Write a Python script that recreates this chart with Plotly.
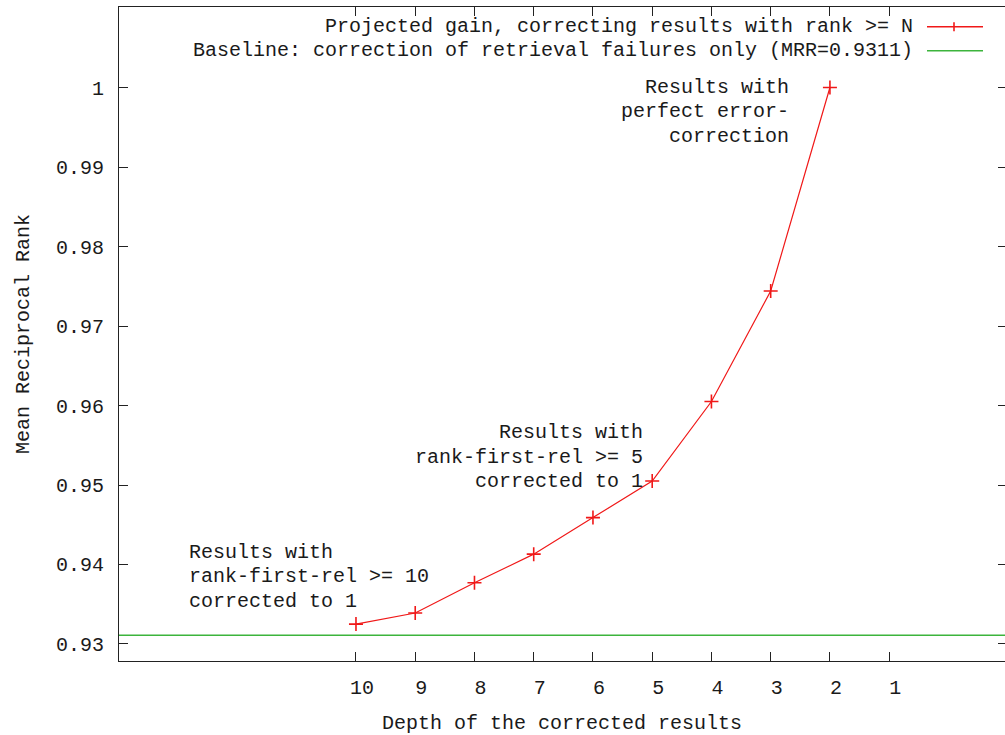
import plotly.graph_objects as go

# ---- data -------------------------------------------------------------
depth = [10, 9, 8, 7, 6, 5, 4, 3, 2]
mrr_projected = [0.9325, 0.9339, 0.9377, 0.9413, 0.9459, 0.9505, 0.9605, 0.9744, 1.0]
baseline_mrr = 0.9311

x_tick_values = [10, 9, 8, 7, 6, 5, 4, 3, 2, 1]
y_tick_values = [0.93, 0.94, 0.95, 0.96, 0.97, 0.98, 0.99, 1.0]
y_tick_text = ["0.93", "0.94", "0.95", "0.96", "0.97", "0.98", "0.99", "1"]

series_names = [
    "Projected gain, correcting results with rank >= N",
    "Baseline: correction of retrieval failures only (MRR=0.9311)",
]

label_perfect = ["Results with", "perfect error-", "correction"]
label_rank5 = ["Results with", "rank-first-rel >= 5", "corrected to 1"]
label_rank10 = ["Results with", "rank-first-rel >= 10", "corrected to 1"]

# ---- styling ------------------------------------------------------------
FONT = "Liberation Mono"
FSIZE = 20
TXT = "#1a1a1a"
RED = "#f01818"
GREEN = "#3cb43c"

W, H = 1005, 735
ML, MR, MT, MB = 119, 0, 7, 74
PW, PH = W - ML - MR, H - MT - MB


def px_x(px):
    return (px - ML) / PW


def px_y(py):
    return (H - MB - py) / PH


fig = go.Figure()

fig.add_trace(go.Scatter(
    x=depth, y=mrr_projected, mode="lines+markers",
    name=series_names[0],
    line=dict(color=RED, width=1.2),
    marker=dict(symbol="cross-thin", size=10, line=dict(color=RED, width=1.6)),
    showlegend=False,
))

fig.add_hline(y=baseline_mrr, line=dict(color=GREEN, width=1.6), layer="above")

# right-hand mirror ticks (no border line on that side)
fig.add_trace(go.Scatter(x=[None], y=[None], yaxis="y2", showlegend=False))

# ---- key, drawn text-first like the original terminal ---------------------
key_rows = [26.7, 50.7]
for name, row, col in zip(series_names, key_rows, [RED, GREEN]):
    fig.add_annotation(
        xref="paper", yref="paper", x=px_x(915), y=px_y(row),
        xanchor="right", yanchor="middle", text=name, showarrow=False,
        font=dict(family=FONT, size=FSIZE, color=TXT),
    )
    fig.add_shape(type="line", xref="paper", yref="paper",
                  x0=px_x(927), x1=px_x(983), y0=px_y(row), y1=px_y(row),
                  line=dict(color=col, width=1.6))
fig.add_shape(type="line", xref="paper", yref="paper",
              x0=px_x(954), x1=px_x(954),
              y0=px_y(key_rows[0] - 4.5), y1=px_y(key_rows[0] + 4.5),
              line=dict(color=RED, width=1.6))

# ---- multi-line point labels ----------------------------------------------
LINE_STEP = 24.4


def add_label(lines, x, y, anchor):
    for i, line in enumerate(lines):
        fig.add_annotation(
            x=x, y=y, xref="x", yref="y", text=line, showarrow=False,
            xanchor=anchor, yanchor="middle", yshift=(1 - i) * LINE_STEP,
            align=anchor,
            font=dict(family=FONT, size=FSIZE, color=TXT),
        )


add_label(label_perfect, 2.66, 0.99696, "right")
add_label(label_rank5, 5.13, 0.95348, "right")
add_label(label_rank10, 12.856, 0.93846, "left")

axis_common = dict(
    showgrid=False, zeroline=False,
    ticks="inside", ticklen=9, tickcolor="#222", tickwidth=1,
    tickfont=dict(family=FONT, size=FSIZE, color=TXT),
)

fig.update_layout(
    width=W, height=H,
    margin=dict(l=ML, r=MR, t=MT, b=MB),
    paper_bgcolor="white", plot_bgcolor="white",
    font=dict(family=FONT, size=FSIZE, color=TXT),
    showlegend=False,
    xaxis=dict(
        range=[14, -0.955], tickvals=x_tick_values,
        ticktext=[str(v) for v in x_tick_values],
        showline=True, linecolor="#222", linewidth=1, mirror="ticks",
        ticklabelstandoff=8, ticklabelshift=-6,
        title=dict(text="Depth of the corrected results",
                   font=dict(family=FONT, size=FSIZE, color=TXT), standoff=16),
        **axis_common,
    ),
    yaxis=dict(
        range=[0.92786, 1.01013], tickvals=y_tick_values, ticktext=y_tick_text,
        showline=True, linecolor="#222", linewidth=1, mirror=False,
        ticklabelstandoff=10,
        title=dict(text="Mean Reciprocal Rank",
                   font=dict(family=FONT, size=FSIZE, color=TXT), standoff=20),
        **axis_common,
    ),
    yaxis2=dict(
        overlaying="y", side="right", anchor="x",
        range=[0.92786, 1.01013], tickvals=y_tick_values,
        showticklabels=False, showline=False, showgrid=False, zeroline=False,
        ticks="inside", ticklen=7, tickcolor="#222", tickwidth=1,
    ),
)

fig.write_html("out.html")
